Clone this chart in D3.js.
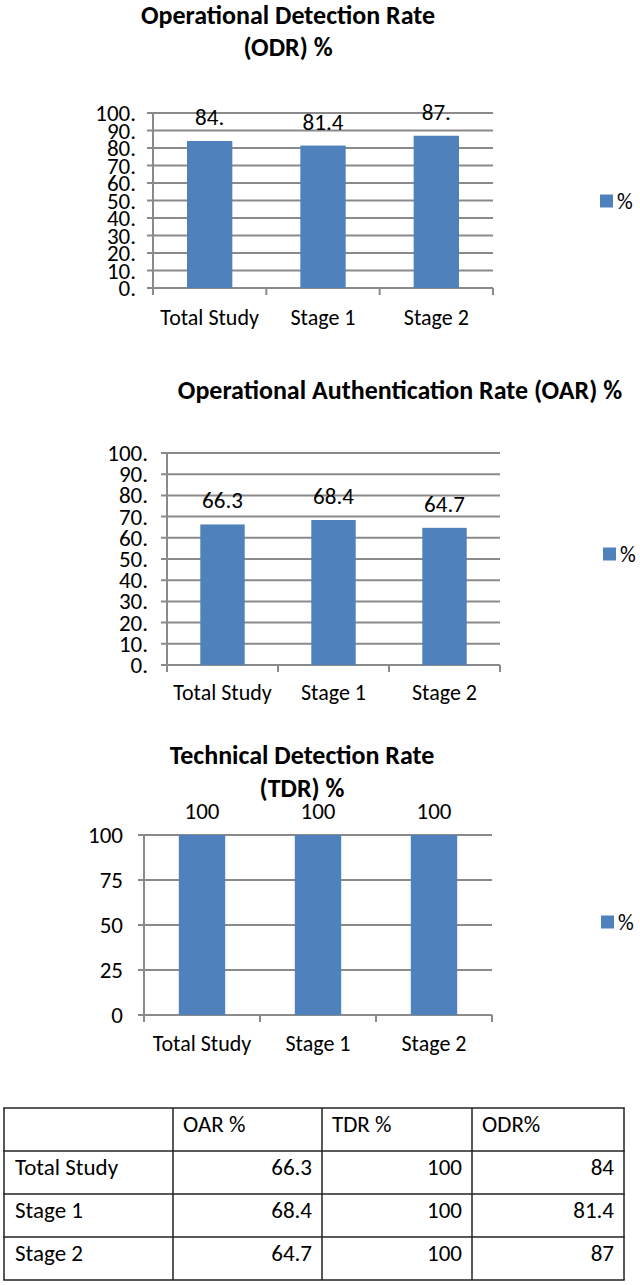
<!DOCTYPE html>
<html><head><meta charset="utf-8">
<script src="https://cdn.jsdelivr.net/npm/d3@7"></script>
<style>
html,body{margin:0;padding:0;background:#fff;}
svg text{font-family:"Carlito","Liberation Sans Narrow","Open Sans",sans-serif;fill:#000;}
</style></head>
<body><svg id="c" width="640" height="1285"></svg>
<script>
const categories = ["Total Study", "Stage 1", "Stage 2"];
const odrValues = [84, 81.4, 87];
const odrLabels = ["84.", "81.4", "87."];
const oarValues = [66.3, 68.4, 64.7];
const oarLabels = ["66.3", "68.4", "64.7"];
const tdrValues = [100, 100, 100];
const tdrLabels = ["100", "100", "100"];
const tenTicks = [0, 10, 20, 30, 40, 50, 60, 70, 80, 90, 100];
const tenTickLabels = ["0.", "10.", "20.", "30.", "40.", "50.", "60.", "70.", "80.", "90.", "100."];
const quarterTicks = [0, 25, 50, 75, 100];
const quarterTickLabels = ["0", "25", "50", "75", "100"];
const seriesName = "%";
const tableHeaders = ["", "OAR %", "TDR %", "ODR%"];

const svg = d3.select("#c");
const BAR = "#4f81bd", GRID = "#8a8a8a";

function barChart(cfg) {
  const g = svg.append("g");
  const x = d3.scaleBand().domain(categories).range([cfg.x0, cfg.x1]).paddingInner(0.6).paddingOuter(0.3);
  const y = d3.scaleLinear().domain([0, 100]).range([cfg.yb, cfg.yt]);
  g.selectAll(".grid").data(cfg.ticks).join("line")
    .attr("x1", cfg.x0 - 6).attr("x2", cfg.x1)
    .attr("y1", d => y(d)).attr("y2", d => y(d))
    .attr("stroke", GRID).attr("stroke-width", 2);
  g.append("line").attr("x1", cfg.x0).attr("x2", cfg.x0).attr("y1", y(100)).attr("y2", y(0) + 7)
    .attr("stroke", GRID).attr("stroke-width", 2);
  const step = x.step();
  g.selectAll(".xt").data(d3.range(1, categories.length + 1)).join("line")
    .attr("x1", k => cfg.x0 + k * step).attr("x2", k => cfg.x0 + k * step)
    .attr("y1", y(0)).attr("y2", y(0) + 7)
    .attr("stroke", GRID).attr("stroke-width", 2);
  g.selectAll(".yl").data(cfg.ticks).join("text")
    .attr("x", cfg.labelX).attr("y", d => y(d)).attr("dy", "0.35em")
    .attr("text-anchor", "end").attr("font-size", cfg.tickFont)
    .text((d, i) => cfg.tickLabels[i]);
  g.selectAll(".bar").data(cfg.values).join("rect")
    .attr("x", (d, i) => x(categories[i])).attr("width", x.bandwidth())
    .attr("y", d => y(d)).attr("height", d => y(0) - y(d))
    .attr("fill", BAR);
  g.selectAll(".vl").data(cfg.values).join("text")
    .attr("x", (d, i) => x(categories[i]) + x.bandwidth() / 2)
    .attr("y", d => y(d) - cfg.labelGap).attr("dy", "0.35em")
    .attr("text-anchor", "middle").attr("font-size", 23)
    .text((d, i) => cfg.labels[i]);
  g.selectAll(".xl").data(categories).join("text")
    .attr("x", d => x(d) + x.bandwidth() / 2).attr("y", cfg.xlY).attr("dy", "0.35em")
    .attr("text-anchor", "middle").attr("font-size", 22)
    .text(d => d);
  cfg.title.forEach((t, i) => {
    g.append("text").attr("x", cfg.titleX).attr("y", cfg.titleY[i]).attr("dy", "0.35em")
      .attr("text-anchor", "middle").attr("font-size", 26).attr("font-weight", "bold").text(t);
  });
  g.append("rect").attr("x", cfg.legX).attr("y", cfg.legY - 6.5).attr("width", 13).attr("height", 13).attr("fill", BAR);
  g.append("text").attr("x", cfg.legX + 17).attr("y", cfg.legY).attr("dy", "0.35em").attr("font-size", 22).text(seriesName);
}

barChart({x0: 153, x1: 493, yt: 113, yb: 288, ticks: tenTicks, tickLabels: tenTickLabels, labelX: 136, tickFont: 23,
  values: odrValues, labels: odrLabels, labelGap: 24, xlY: 317, title: ["Operational Detection Rate", "(ODR) %"],
  titleX: 288, titleY: [15, 47], legX: 600, legY: 201});
barChart({x0: 167, x1: 500, yt: 453, yb: 665, ticks: tenTicks, tickLabels: tenTickLabels, labelX: 148, tickFont: 23,
  values: oarValues, labels: oarLabels, labelGap: 24, xlY: 692, title: ["Operational Authentication Rate (OAR) %"],
  titleX: 400, titleY: [390], legX: 603, legY: 554});
barChart({x0: 144, x1: 492, yt: 835, yb: 1015, ticks: quarterTicks, tickLabels: quarterTickLabels, labelX: 123, tickFont: 23,
  values: tdrValues, labels: tdrLabels, labelGap: 24, xlY: 1043, title: ["Technical Detection Rate", "(TDR) %"],
  titleX: 302, titleY: [755, 788], legX: 601, legY: 922});

// table
const colX = [4, 173, 322, 472, 624];
const rowY = [1108, 1151, 1194, 1237, 1280];
const tableRows = categories.map((c, i) => [c, String(oarValues[i]), String(tdrValues[i]), String(odrValues[i])]);
const tg = svg.append("g");
rowY.forEach(yv => tg.append("line").attr("x1", colX[0] - 0.75).attr("x2", colX[4] + 0.75).attr("y1", yv).attr("y2", yv).attr("stroke", "#222").attr("stroke-width", 1.5));
colX.forEach(xv => tg.append("line").attr("x1", xv).attr("x2", xv).attr("y1", rowY[0]).attr("y2", rowY[4]).attr("stroke", "#222").attr("stroke-width", 1.5));
tableHeaders.forEach((h, j) => {
  tg.append("text").attr("x", colX[j] + 10).attr("y", rowY[0] + 16).attr("dy", "0.35em").attr("font-size", 23).text(h);
});
tableRows.forEach((r, i) => {
  r.forEach((v, j) => {
    const t = tg.append("text").attr("y", rowY[i + 1] + 16).attr("dy", "0.35em").attr("font-size", 23).text(v);
    if (j === 0) t.attr("x", 15); else t.attr("x", colX[j + 1] - 10).attr("text-anchor", "end");
  });
});
</script></body></html>
